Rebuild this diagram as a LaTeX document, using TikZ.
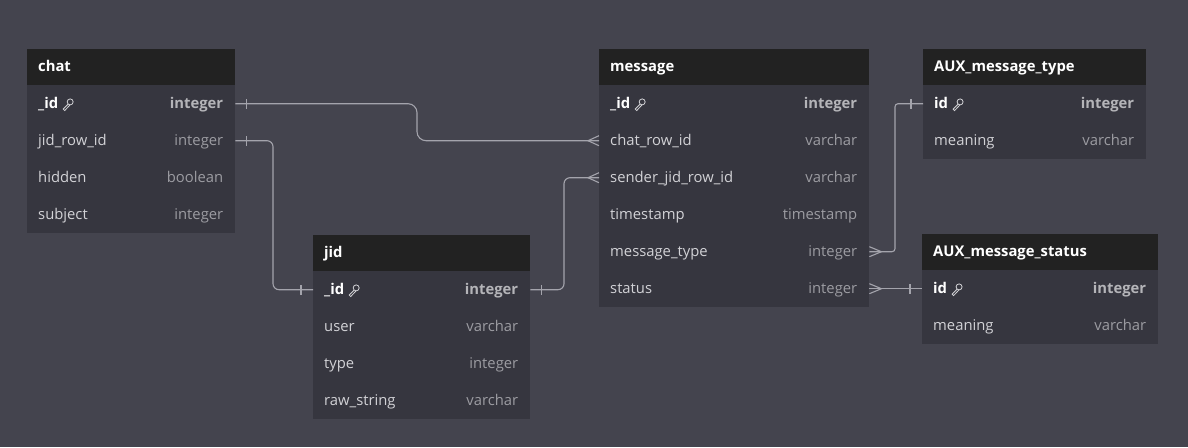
\documentclass[tikz,border=0pt]{standalone}
\usepackage{fontspec}
\setmainfont{Open Sans}
\definecolor{bgc}{HTML}{44444E}
\definecolor{bodyc}{HTML}{36363F}
\definecolor{hdrc}{HTML}{222222}
\definecolor{fieldc}{HTML}{D2D2D6}
\definecolor{typec}{HTML}{9C9CA2}
\definecolor{pktypec}{HTML}{B4B4B8}
\definecolor{linec}{HTML}{A4A4AC}
\tikzset{
  hdrbox/.style={fill=hdrc, draw=none},
  bodybox/.style={fill=bodyc, draw=none},
  rowbox/.style={draw=none, inner sep=0pt, minimum height=37pt, anchor=north west},
  basetext/.style={inner sep=0pt, text height=10.5pt, text depth=3.5pt, yshift=-1pt, font=\fontsize{14.8}{17}\selectfont},
  hdrtext/.style={basetext, text=white, font=\fontsize{14.8}{17}\selectfont\bfseries, anchor=west},
  fieldtext/.style={basetext, text=fieldc, anchor=west},
  pkfieldtext/.style={basetext, text=white, font=\fontsize{14.8}{17}\selectfont\bfseries, anchor=west},
  typetext/.style={basetext, text=typec, anchor=east},
  pktypetext/.style={basetext, text=pktypec, font=\fontsize{14.8}{17}\selectfont\bfseries, anchor=east},
  conn/.style={draw=linec, line width=1.1pt},
  keyline/.style={draw=fieldc, line width=0.8pt},
}
% table: #1 name, #2 x, #3 y, #4 width, #5 nrows, #6 title
\newcommand\ertbl[6]{%
  \fill[hdrc] (#2,#3) rectangle ++(#4,36);
  \fill[bodyc] (#2,#3+36) rectangle ++(#4,37*#5);
  \node[hdrtext] (#1-title) at (#2+11,#3+18) {#6};
}
% row: #1 node name, #2 x, #3 y(top), #4 width, #5 field, #6 type
\newcommand\errow[6]{%
  \node[rowbox, minimum width=#4pt] (#1) at (#2,#3) {};
  \node[fieldtext] (#1-f) at ([xshift=11pt]#1.west) {#5};
  \node[typetext] (#1-t) at ([xshift=-12pt]#1.east) {#6};
}
\newcommand\erpkrow[6]{%
  \node[rowbox, minimum width=#4pt] (#1) at (#2,#3) {};
  \node[pkfieldtext] (#1-f) at ([xshift=11pt]#1.west) {#5};
  \node[pktypetext] (#1-t) at ([xshift=-12pt]#1.east) {#6};
  \draw[keyline] ([xshift=11.8pt,yshift=2.8pt]#1-f.east) circle (3pt);
  \draw[keyline, line cap=round] ([xshift=9.8pt,yshift=0.6pt]#1-f.east) -- ([xshift=4.8pt,yshift=-4.4pt]#1-f.east) -- ([xshift=6.3pt,yshift=-5.9pt]#1-f.east) -- ([xshift=11.2pt,yshift=-0.7pt]#1-f.east);
}
\begin{document}
\begin{tikzpicture}[x=1pt,y=-1pt]
\fill[bgc] (0,0) rectangle (1188,447);
\useasboundingbox (0,0) rectangle (1188,447);

% chat
\ertbl{chat}{27}{49}{208}{4}{chat}
\erpkrow{chat-id}{27}{85}{208}{\_id}{integer}
\errow{chat-jid}{27}{122}{208}{jid\_row\_id}{integer}
\errow{chat-hidden}{27}{159}{208}{hidden}{boolean}
\errow{chat-subject}{27}{196}{208}{subject}{integer}

% jid
\ertbl{jid}{313}{235}{217}{4}{jid}
\erpkrow{jid-id}{313}{271}{217}{\_id}{integer}
\errow{jid-user}{313}{308}{217}{user}{varchar}
\errow{jid-type}{313}{345}{217}{type}{integer}
\errow{jid-raw}{313}{382}{217}{raw\_string}{varchar}

% message
\ertbl{msg}{599}{49}{270}{6}{message}
\erpkrow{msg-id}{599}{85}{270}{\_id}{integer}
\errow{msg-chat}{599}{122}{270}{chat\_row\_id}{varchar}
\errow{msg-sender}{599}{159}{270}{sender\_jid\_row\_id}{varchar}
\errow{msg-ts}{599}{196}{270}{timestamp}{timestamp}
\errow{msg-mtype}{599}{233}{270}{message\_type}{integer}
\errow{msg-status}{599}{270}{270}{status}{integer}

% AUX_message_type
\ertbl{auxt}{923}{49}{223}{2}{AUX\_message\_type}
\erpkrow{auxt-id}{923}{85}{223}{id}{integer}
\errow{auxt-meaning}{923}{122}{223}{meaning}{varchar}

% AUX_message_status
\ertbl{auxs}{922}{234}{236}{2}{AUX\_message\_status}
\erpkrow{auxs-id}{922}{270}{236}{id}{integer}
\errow{auxs-meaning}{922}{307}{236}{meaning}{varchar}

% bend coordinates
\coordinate (b1) at (417,0);
\coordinate (b2) at (273,0);
\coordinate (b3) at (564,0);
\coordinate (b4) at (895,0);

% chat._id -> message.chat_row_id
\draw[conn, rounded corners=9pt] (chat-id.east) -- (chat-id.east -| b1) -- (msg-chat.west -| b1) -- (msg-chat.west);
% chat.jid_row_id -> jid._id
\draw[conn, rounded corners=6pt] (chat-jid.east) -- (chat-jid.east -| b2) -- (jid-id.west -| b2) -- (jid-id.west);
% jid._id -> message.sender_jid_row_id
\draw[conn, rounded corners=6pt] (jid-id.east) -- (jid-id.east -| b3) -- (msg-sender.west -| b3) -- (msg-sender.west);
% message.message_type -> AUX_message_type.id
\draw[conn, rounded corners=3pt] (msg-mtype.east) -- (msg-mtype.east -| b4) -- (auxt-id.west -| b4) -- (auxt-id.west);
% message.status -> AUX_message_status.id
\draw[conn] (msg-status.east) -- (auxs-id.west);

% one-marks
\draw[conn] ([xshift=11pt,yshift=-5pt]chat-id.east) -- ([xshift=11pt,yshift=5pt]chat-id.east);
\draw[conn] ([xshift=11pt,yshift=-5pt]chat-jid.east) -- ([xshift=11pt,yshift=5pt]chat-jid.east);
\draw[conn] ([xshift=-12pt,yshift=-5pt]jid-id.west) -- ([xshift=-12pt,yshift=5pt]jid-id.west);
\draw[conn] ([xshift=11pt,yshift=-5pt]jid-id.east) -- ([xshift=11pt,yshift=5pt]jid-id.east);
\draw[conn] ([xshift=-12pt,yshift=-5pt]auxt-id.west) -- ([xshift=-12pt,yshift=5pt]auxt-id.west);
\draw[conn] ([xshift=-12pt,yshift=-5pt]auxs-id.west) -- ([xshift=-12pt,yshift=5pt]auxs-id.west);

% crow's feet
\draw[conn] ([yshift=-5pt]msg-chat.west) -- ([xshift=-11pt]msg-chat.west) -- ([yshift=5pt]msg-chat.west);
\draw[conn] ([yshift=-5pt]msg-sender.west) -- ([xshift=-11pt]msg-sender.west) -- ([yshift=5pt]msg-sender.west);
\draw[conn] ([yshift=-5pt]msg-mtype.east) -- ([xshift=12pt]msg-mtype.east) -- ([yshift=5pt]msg-mtype.east);
\draw[conn] ([yshift=-5pt]msg-status.east) -- ([xshift=12pt]msg-status.east) -- ([yshift=5pt]msg-status.east);
\end{tikzpicture}
\end{document}
